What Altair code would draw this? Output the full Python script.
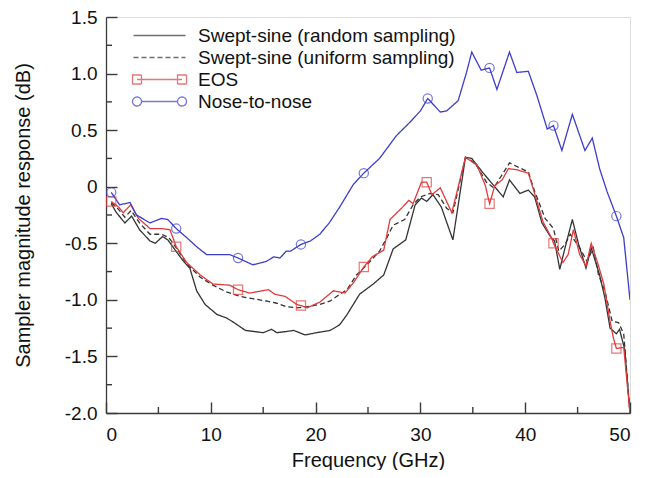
import altair as alt
import pandas as pd

# ---------------- data ----------------
series_names = ["Swept-sine (random sampling)", "Swept-sine (uniform sampling)", "EOS", "Nose-to-nose"]
series_colors = ["#333333", "#333333", "#e03c3c", "#3d3dcc"]

rand_f = [0.5, 1.0, 1.8, 2.45, 3.2, 4.2, 4.7, 5.4, 5.9, 6.6, 7.4, 8.0, 8.65, 9.45, 10.6, 11.5, 12.2, 13.3,
          15.0, 15.8, 16.3, 17.2, 17.9, 19.0, 20.1, 21.4, 22.3, 23.0, 24.2, 25.5, 26.5, 27.4, 28.6, 29.5,
          30.1, 30.6, 31.2, 32.0, 33.1, 34.3, 34.9, 36.0, 37.0, 37.9, 38.5, 39.5, 40.3, 40.9, 41.6, 42.4,
          42.8, 43.3, 43.8, 44.5, 45.1, 45.8, 46.3, 47.1, 47.6, 48.1, 48.7, 49.0, 49.5, 50.0]
rand_v = [-0.15, -0.23, -0.32, -0.26, -0.38, -0.48, -0.50, -0.44, -0.47, -0.56, -0.66, -0.72, -0.92, -1.04,
          -1.13, -1.16, -1.20, -1.27, -1.29, -1.26, -1.29, -1.28, -1.27, -1.31, -1.29, -1.27, -1.22, -1.13,
          -0.95, -0.86, -0.78, -0.55, -0.47, -0.16, -0.10, -0.13, -0.07, -0.18, -0.47, 0.26, 0.25, 0.12,
          0.01, -0.09, 0.06, -0.06, -0.03, -0.09, -0.32, -0.44, -0.48, -0.73, -0.54, -0.29, -0.51, -0.72,
          -0.54, -0.78, -0.98, -1.25, -1.30, -1.26, -1.44, -2.0]

unif_f = [0.5, 1.2, 1.8, 2.4, 3.2, 4.2, 5.3, 6.0, 6.7, 7.7, 9.0, 10.2, 11.5, 12.8, 14.0, 15.3, 16.3, 17.2,
          18.2, 19.2, 20.4, 21.4, 22.0, 23.0, 23.9, 24.9, 26.1, 26.8, 27.4, 28.5, 29.3, 30.0, 30.9, 31.7,
          32.5, 33.1, 34.3, 35.2, 36.3, 37.0, 38.5, 40.3, 40.9, 41.9, 42.7, 43.2, 43.8, 44.3, 45.2, 45.9,
          46.5, 47.0, 47.6, 48.3, 48.9, 49.4, 50.0]
unif_v = [-0.14, -0.20, -0.27, -0.21, -0.32, -0.42, -0.42, -0.45, -0.54, -0.68, -0.80, -0.87, -0.93, -0.97,
          -0.99, -1.01, -1.03, -1.06, -1.07, -1.06, -1.04, -1.01, -0.97, -0.91, -0.78, -0.69, -0.57, -0.45,
          -0.34, -0.29, -0.16, -0.09, -0.06, -0.07, -0.19, -0.23, 0.26, 0.21, 0.04, -0.01, 0.21, 0.13,
          -0.04, -0.28, -0.37, -0.57, -0.51, -0.42, -0.54, -0.66, -0.54, -0.78, -0.92, -1.19, -1.20, -1.30,
          -2.0]

eos_f = [0.5, 1.2, 1.65, 2.36, 3.1, 4.2, 5.3, 6.1, 6.7, 7.7, 9.0, 10.2, 11.8, 12.6, 13.7, 15.5, 16.1, 17.1,
         18.2, 18.6, 19.2, 20.4, 21.7, 22.8, 23.6, 24.6, 25.4, 26.5, 27.1, 28.2, 28.9, 29.3, 30.1, 30.6,
         31.1, 31.9, 33.0, 34.3, 35.4, 36.2, 36.6, 37.1, 37.8, 38.4, 39.2, 40.3, 40.8, 41.7, 42.5, 42.7,
         43.6, 44.1, 44.6, 45.2, 45.8, 46.3, 47.0, 47.5, 48.1, 48.4, 48.7, 49.4, 50.0]
eos_v = [-0.13, -0.18, -0.23, -0.16, -0.28, -0.37, -0.37, -0.38, -0.53, -0.67, -0.78, -0.86, -0.87, -0.91,
         -0.94, -0.91, -0.95, -0.97, -1.04, -1.05, -1.07, -1.02, -0.92, -0.94, -0.85, -0.71, -0.62, -0.56,
         -0.29, -0.19, -0.12, -0.15, 0.04, 0.04, -0.07, -0.01, -0.23, 0.26, 0.19, 0.01, -0.15, 0.01, 0.06,
         0.16, 0.15, 0.12, -0.03, -0.31, -0.45, -0.50, -0.67, -0.60, -0.38, -0.60, -0.70, -0.50, -0.70,
         -0.86, -1.19, -1.33, -1.43, -1.42, -2.0]

n2n_f = [0.5, 1.3, 2.3, 2.9, 4.2, 5.3, 5.9, 6.7, 7.7, 8.65, 9.6, 11.8, 12.6, 14.0, 15.3, 16.0, 16.6, 17.2,
         17.6, 18.6, 19.5, 20.4, 21.3, 22.3, 23.6, 24.6, 26.1, 27.3, 27.7, 29.0, 30.0, 30.7, 31.9, 32.5,
         33.6, 34.4, 34.9, 35.8, 36.6, 37.3, 38.5, 39.2, 40.3, 41.1, 42.1, 42.7, 43.5, 44.5, 45.7, 46.4,
         47.1, 47.8, 48.7, 49.4, 50.0]
n2n_v = [-0.05, -0.16, -0.14, -0.25, -0.32, -0.28, -0.29, -0.37, -0.45, -0.53, -0.60, -0.60, -0.63, -0.69,
         -0.66, -0.62, -0.63, -0.57, -0.57, -0.51, -0.48, -0.42, -0.32, -0.18, 0.02, 0.12, 0.25, 0.40, 0.45,
         0.57, 0.67, 0.78, 0.66, 0.67, 0.76, 1.01, 1.19, 1.03, 1.05, 0.86, 1.19, 1.01, 1.02, 0.81, 0.51,
         0.54, 0.32, 0.64, 0.32, 0.43, 0.16, -0.04, -0.26, -0.45, -1.0]

eos_mark_f = [0.5, 6.7, 12.6, 18.6, 24.6, 30.6, 36.6, 42.7, 48.7]
eos_mark_v = [-0.13, -0.53, -0.91, -1.05, -0.71, 0.04, -0.15, -0.50, -1.43]
n2n_mark_f = [0.5, 6.7, 12.6, 18.6, 24.6, 30.7, 36.6, 42.7, 48.7]
n2n_mark_v = [-0.05, -0.37, -0.63, -0.51, 0.12, 0.78, 1.05, 0.54, -0.26]

x_labels = [0, 10, 20, 30, 40, 50]
x_minor = [5, 15, 25, 35, 45]
y_labels = [-2.0, -1.5, -1.0, -0.5, 0.0, 0.5, 1.0, 1.5]
y_minor = [-1.75, -1.25, -0.75, -0.25, 0.25, 0.75, 1.25]

# ---------------- tables ----------------
rows = []
for name, fs, vs in zip(series_names, [rand_f, unif_f, eos_f, n2n_f], [rand_v, unif_v, eos_v, n2n_v]):
    for f, v in zip(fs, vs):
        rows.append({"series": name, "freq": f, "val": v})
lines_df = pd.DataFrame(rows)

mrows = []
for name, shp, fs, vs in [("EOS", "square", eos_mark_f, eos_mark_v),
                          ("Nose-to-nose", "circle", n2n_mark_f, n2n_mark_v)]:
    for f, v in zip(fs, vs):
        mrows.append({"series": name, "shp": shp, "freq": f, "val": v})
marks_df = pd.DataFrame(mrows)

W, H = 524, 396
FONT = "Liberation Sans"
AX = "#3a3a3a"
TXT = "#111111"
MAJOR = 11
MINOR_X_LEN = 6 * 50 / W      # minor tick length (6 px) in GHz
MINOR_Y_LEN = 6 * 3.5 / H     # minor tick length (6 px) in dB

xminor_df = pd.DataFrame({"t": x_minor, "y0": [-2.0] * len(x_minor),
                          "y1": [-2.0 + MINOR_Y_LEN] * len(x_minor)})
yminor_df = pd.DataFrame({"t": y_minor, "x0": [0.0] * len(y_minor),
                          "x1": [MINOR_X_LEN] * len(y_minor)})

# legend glyphs (custom symbol paths; symbol size 100 -> 5 px per unit)
p_line = "M-5.2,0H5.2"
p_sq = "M-4.5,0H4.5M-5.4,-0.9H-3.6V0.9H-5.4ZM3.6,-0.9H5.4V0.9H3.6Z"
p_ci = ("M-5.4,0A0.9,0.9 0 1,1 -3.6,0A0.9,0.9 0 1,1 -5.4,0ZM-3.6,0H3.6"
        "M3.6,0A0.9,0.9 0 1,1 5.4,0A0.9,0.9 0 1,1 3.6,0Z")

color_scale = alt.Scale(domain=series_names, range=series_colors)
dash_scale = alt.Scale(domain=series_names, range=[[1, 0], [5, 3], [1, 0], [1, 0]])
xs = alt.Scale(domain=[0, 50], nice=False, zero=False)
ys = alt.Scale(domain=[-2.0, 1.5], nice=False, zero=False)

legend = alt.Legend(title=None, orient="none", legendX=24, legendY=9, padding=0,
                    symbolSize=100, symbolStrokeWidth=1.3, symbolOffset=20,
                    labelFont=FONT, labelFontSize=19, labelColor=TXT, labelOffset=29,
                    labelLimit=500, rowPadding=2, symbolFillColor="transparent")

x_axis = alt.Axis(values=x_labels, ticks=True, tickSize=alt.ExprRef(f"-{MAJOR}"), tickColor=AX,
                  tickWidth=1.4, grid=False, labelFont=FONT, labelFontSize=19,
                  labelColor=TXT, labelPadding=12 + MAJOR, title="Frequency (GHz)", titleFont=FONT,
                  titleFontSize=20, titleFontWeight="normal", titleColor=TXT, titlePadding=6,
                  domainColor=AX, domainWidth=1.3, format="d")
y_axis = alt.Axis(values=y_labels, ticks=True, tickSize=alt.ExprRef(f"-{MAJOR}"), tickColor=AX,
                  tickWidth=1.4, grid=False, labelFont=FONT, labelFontSize=19,
                  labelColor=TXT, labelPadding=9 + MAJOR,
                  labelExpr="(datum.value < 0 ? '-' : '') + (datum.value == 0 ? '0' : format(abs(datum.value), '.1f'))",
                  title="Sampler magnitude response (dB)", titleFont=FONT, titleFontSize=20,
                  titleFontWeight="normal", titleColor=TXT, titlePadding=31,
                  domainColor=AX, domainWidth=1.3)

lines = alt.Chart(lines_df).mark_line(strokeWidth=1.3, clip=True).encode(
    x=alt.X("freq:Q", scale=xs, axis=x_axis),
    y=alt.Y("val:Q", scale=ys, axis=y_axis),
    color=alt.Color("series:N", scale=color_scale, legend=legend),
    strokeDash=alt.StrokeDash("series:N", scale=dash_scale, legend=legend),
    detail="series:N",
)

markers = alt.Chart(marks_df).mark_point(filled=False, size=85, strokeWidth=1.2, clip=True).encode(
    x=alt.X("freq:Q", scale=xs),
    y=alt.Y("val:Q", scale=ys),
    color=alt.Color("series:N", scale=color_scale, legend=legend),
    shape=alt.Shape("shp:N", scale=None),
)

legend_layer = alt.Chart(marks_df).transform_filter("false").mark_point(filled=False).encode(
    x=alt.X("freq:Q", scale=xs),
    y=alt.Y("val:Q", scale=ys),
    color=alt.Color("series:N", scale=color_scale, legend=legend),
    strokeDash=alt.StrokeDash("series:N", scale=dash_scale, legend=legend),
    shape=alt.Shape("series:N", scale=alt.Scale(domain=series_names, range=[p_line, p_line, p_sq, p_ci]),
                    legend=legend),
)

# minor inward ticks, drawn through the same scales
x_minor_r = alt.Chart(xminor_df).mark_rule(color=AX, strokeWidth=1.4).encode(
    x=alt.X("t:Q", scale=xs), y=alt.Y("y0:Q", scale=ys), y2="y1:Q")
y_minor_r = alt.Chart(yminor_df).mark_rule(color=AX, strokeWidth=1.4).encode(
    y=alt.Y("t:Q", scale=ys), x=alt.X("x0:Q", scale=xs), x2="x1:Q")

chart = alt.layer(lines, markers, legend_layer, x_minor_r, y_minor_r).properties(
    width=W, height=H,
    autosize=alt.AutoSizeParams(type="none"),
    padding={"left": 98, "top": 9, "right": 15, "bottom": 57},
).configure_view(stroke=AX, strokeWidth=1.3).configure(background="white")

chart.save("out.html", embed_options={"renderer": "svg", "actions": False})
